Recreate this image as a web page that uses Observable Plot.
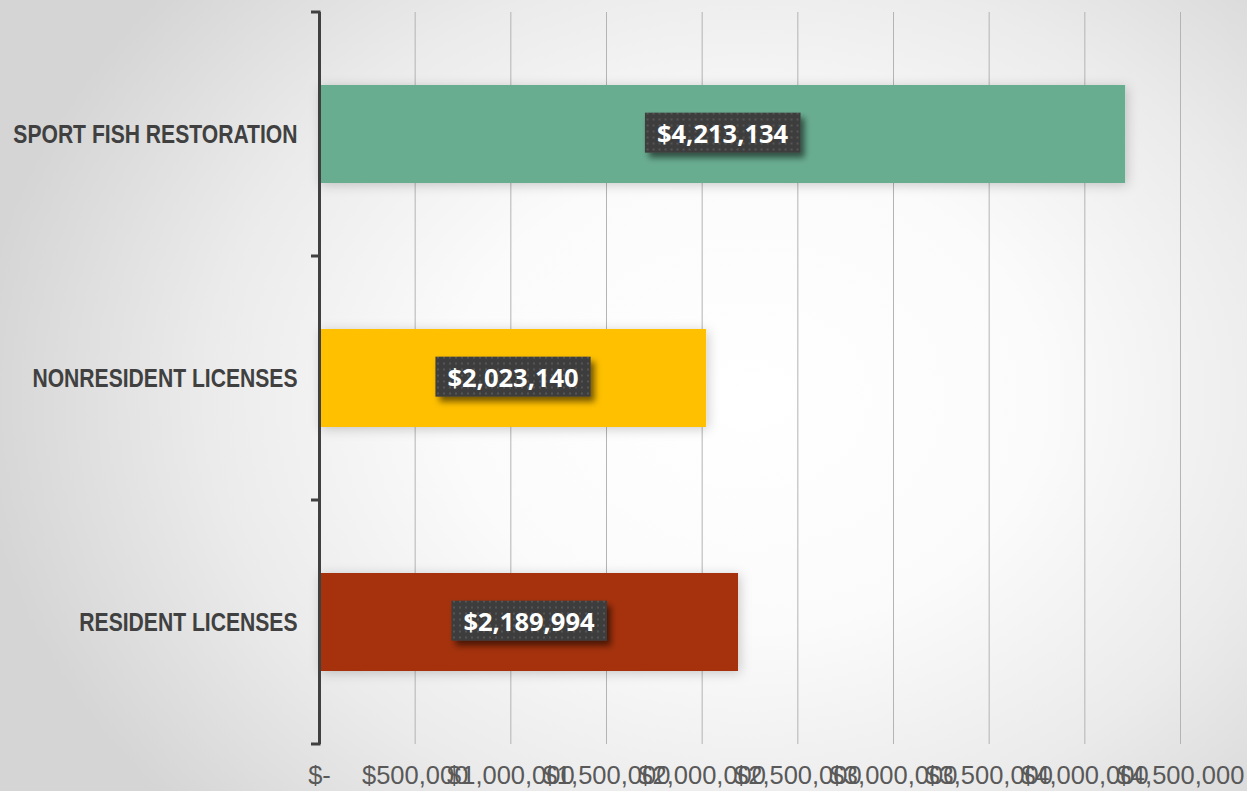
<!DOCTYPE html>
<html><head><meta charset="utf-8">
<script src="https://cdn.jsdelivr.net/npm/d3@7"></script>
<script src="https://cdn.jsdelivr.net/npm/@observablehq/plot@0.6"></script>
<style>
html,body{margin:0;padding:0;width:1247px;height:791px;overflow:hidden;}
body{background: radial-gradient(ellipse 62% 78% at 60% 50%, #ffffff 0%, #fbfbfb 38%, #ebebeb 70%, #d5d5d5 100%);}
#chart svg{display:block;}
</style></head><body><div id="chart"></div>
<script>
const categories = ["SPORT FISH RESTORATION", "NONRESIDENT LICENSES", "RESIDENT LICENSES"];
const values = [4213134, 2023140, 2189994];
const colors = ["#69AD91", "#FFC000", "#A5300F"];
const xTicks = [0, 500000, 1000000, 1500000, 2000000, 2500000, 3000000, 3500000, 4000000, 4500000];
const xTickLabels = ["$-", "$500,000", "$1,000,000", "$1,500,000", "$2,000,000", "$2,500,000", "$3,000,000", "$3,500,000", "$4,000,000", "$4,500,000"];

const data = categories.map((c, i) => ({category: c, value: values[i], color: colors[i]}));
const sans = "'Liberation Sans', Arial, sans-serif";

const plot = Plot.plot({
  width: 1247, height: 791,
  marginLeft: 319, marginRight: 67, marginTop: 12, marginBottom: 47,
  style: {background: "transparent", overflow: "visible"},
  x: {domain: [0, 4500000], label: null},
  y: {domain: categories, paddingInner: 0.6, paddingOuter: 0.3, label: null},
  marks: [
    Plot.gridX(xTicks, {stroke: "#b4b4b4", strokeOpacity: 1, strokeWidth: 1}),
    Plot.barX(data, {x: "value", y: "category", fill: "color", className: "bars"}),
    Plot.ruleX([0], {stroke: "#404040", strokeWidth: 3}),
    Plot.axisX(xTicks, {tickSize: 0, tickPadding: 21, fontSize: 25.5, fontFamily: sans, fill: "#595959",
      tickFormat: d => xTickLabels[xTicks.indexOf(d)], label: null}),
    Plot.axisY({tickSize: 0, tickPadding: 22, fontSize: 25.6, fontWeight: "bold", fontFamily: sans, fill: "#404040", label: null, className: "ylab"}),
    Plot.text(data, {x: d => d.value / 2, y: "category", text: d => d3.format("$,")(d.value),
      fill: "white", fontWeight: "bold", fontSize: 25.5, fontFamily: "'Open Sans', Roboto, sans-serif", className: "vlabel"})
  ]
});
document.getElementById("chart").appendChild(plot);

const svg = d3.select(plot);
const defs = svg.insert("defs", ":first-child");
const bs = defs.append("filter").attr("id", "barShadow").attr("x", "-10%").attr("y", "-30%").attr("width", "125%").attr("height", "170%");
bs.append("feDropShadow").attr("dx", 2).attr("dy", 2).attr("stdDeviation", 6).attr("flood-color", "#000").attr("flood-opacity", 0.2);
const ls = defs.append("filter").attr("id", "lblShadow").attr("x", "-20%").attr("y", "-40%").attr("width", "150%").attr("height", "200%");
ls.append("feDropShadow").attr("dx", 4).attr("dy", 5).attr("stdDeviation", 3).attr("flood-color", "#000").attr("flood-opacity", 0.55);
const pat = defs.append("pattern").attr("id", "dots").attr("width", 6).attr("height", 6).attr("patternUnits", "userSpaceOnUse");
pat.append("rect").attr("width", 6).attr("height", 6).attr("fill", "#3d3d3d");
pat.append("rect").attr("x", 2).attr("y", 2).attr("width", 2).attr("height", 2).attr("fill", "#555555");

svg.selectAll("g.bars").attr("filter", "url(#barShadow)");

// condense the category labels horizontally (narrow display face in the original)
svg.selectAll("g.ylab text").each(function() {
  const x = +this.getAttribute("x") || 0, y = +this.getAttribute("y") || 0;
  const tr = this.getAttribute("transform") || "";
  this.setAttribute("transform", `${tr} translate(${x},${y}) scale(0.825,1) translate(${-x},${-y})`);
});

// category ticks at band boundaries (Excel style), from the y scale
const ys = plot.scale("y");
const x0 = plot.scale("x").apply(0);
const tg = svg.append("g");
for (let i = 0; i <= categories.length; i++) {
  const yy = ys.range[0] + i * ys.step;
  tg.append("line").attr("x1", x0 - 8).attr("x2", x0 + 1.5).attr("y1", yy).attr("y2", yy)
    .attr("stroke", "#404040").attr("stroke-width", 3);
}

// label boxes
svg.selectAll("g.vlabel text").each(function() {
  const t = this;
  const bb = t.getBBox();
  const cy = bb.y + bb.height / 2;
  const r = document.createElementNS("http://www.w3.org/2000/svg", "rect");
  r.setAttribute("x", bb.x - 12);
  r.setAttribute("y", cy - 20);
  r.setAttribute("width", bb.width + 24);
  r.setAttribute("height", 40);
  r.setAttribute("fill", "url(#dots)");
  r.setAttribute("filter", "url(#lblShadow)");
  if (t.getAttribute("transform")) r.setAttribute("transform", t.getAttribute("transform"));
  t.parentNode.insertBefore(r, t);
});
</script></body></html>
